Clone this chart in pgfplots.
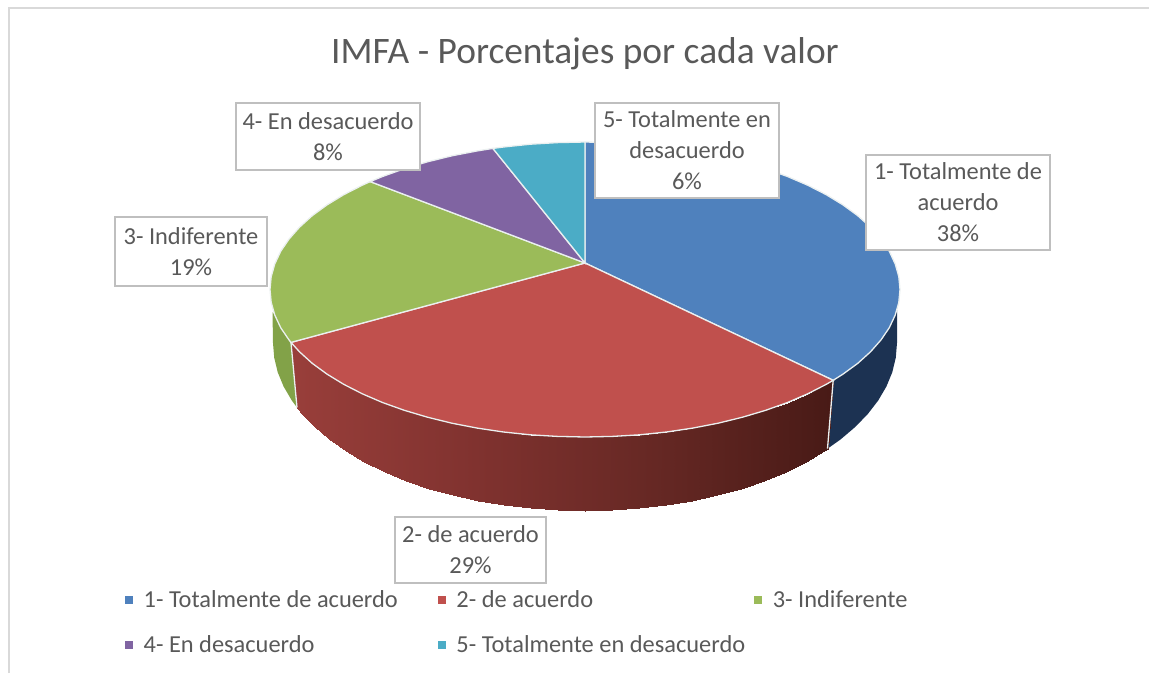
\documentclass[border=0pt]{standalone}
\usepackage{pgfplots}
\pgfplotsset{compat=1.18}
\usepackage{fontspec}
\setmainfont{Carlito}
\definecolor{txt}{RGB}{89,89,89}
\definecolor{boxl}{RGB}{191,191,191}
\definecolor{frame}{RGB}{217,217,217}
\definecolor{sblue}{RGB}{79,129,189}
\definecolor{sred}{RGB}{192,80,77}
\definecolor{sgreen}{RGB}{155,187,89}
\definecolor{spurple}{RGB}{128,100,162}
\definecolor{steal}{RGB}{75,172,198}
\definecolor{seam}{RGB}{235,240,240}
\tikzset{
  lab/.style={draw=boxl, line width=1.6pt, fill=white, align=center, text=txt,
              font=\fontsize{24.4}{31}\selectfont, inner sep=0pt},
}
\begin{document}
\begin{tikzpicture}
\path[use as bounding box] (0,0) rectangle (1149pt,673pt);
\begin{axis}[
    at={(0,0)}, anchor=south west,
    width=1149pt, height=673pt, scale only axis,
    xmin=0, xmax=1149, ymin=0, ymax=673, y dir=reverse,
    hide axis, clip=false,
    colormap={redside}{rgb255=(152,62,58) rgb255=(128,50,47) rgb255=(102,40,36) rgb255=(72,26,22)},
    point meta min=297, point meta max=833,
    legend columns=3,
    legend cell align=left,
    legend image code/.code={\fill[#1,draw=none] (0pt,-4pt) rectangle (8pt,4pt); \path (18pt,0pt);},
    legend style={at={(axis cs:125,591)}, anchor=north west, draw=none, fill=none,
      font=\fontsize{24.4}{28}\selectfont, text=txt,
      /tikz/every node/.append style={inner sep=0pt},
      row sep=26pt, inner sep=0pt, outer sep=0pt},
  ]
% frame of the chart
\addplot[forget plot, frame, line width=1.8pt] coordinates {(9,673) (9,8) (1149,8)};

% sides of the pie
\addplot[forget plot, fill={rgb,255:red,28;green,50;blue,82}, draw=none] coordinates {
  (897.0,310) (895.2,315.1) (889.3,327.7) (881.0,339.9) (870.5,351.8) (857.8,363.3) (843.0,374.1) (833.2,380.3)
  (827.5,448.7) (840.6,439.4) (855.2,427.0) (867.8,414.0) (878.2,400.5) (886.4,386.5) (892.3,372.2) (895.8,357.6) (897,343)
} -- cycle;
\addplot[forget plot, fill={rgb,255:red,130;green,162;blue,72}, draw=none] coordinates {
  (272.5,312) (274.8,315.1) (280.7,327.7) (289.0,339.9) (291,342.4)
  (297,407.5) (291.8,400.5) (283.6,386.5) (277.7,372.2) (274.2,357.6) (273,343)
} -- cycle;
\addplot[forget plot, patch, patch type=rectangle, mesh input=lattice, mesh/cols=2,
         shader=interp, point meta=x] table {
x y
833.2 380.3
827.5 448.7
826.3 384.3
824.0 451.0
807.7 393.8
805.6 461.8
787.5 402.5
785.5 471.7
765.7 410.3
764.0 480.6
742.5 417.2
741.0 488.5
718.1 423.2
716.9 495.3
692.7 428.1
691.7 500.9
666.5 432.0
665.8 505.3
639.7 434.8
639.2 508.4
612.5 436.4
612.2 510.4
585.0 437.0
585.0 511.0
557.5 436.4
557.8 510.4
530.3 434.8
530.8 508.4
503.5 432.0
504.2 505.3
477.3 428.1
478.3 500.9
451.9 423.2
453.1 495.3
427.5 417.2
429.0 488.5
404.3 410.3
406.0 480.6
382.5 402.5
384.5 471.7
362.3 393.8
364.4 461.8
343.7 384.3
346.0 451.0
327.0 374.1
329.4 439.4
312.2 363.3
314.8 427.0
299.5 351.8
302.2 414.0
291.0 342.4
297.0 407.5
};
\addplot[forget plot, seam, line width=1.3pt] coordinates {(833.2,380.3) (827.5,448.7)};
\addplot[forget plot, seam, line width=1.3pt] coordinates {(291,342.4) (297,407.5)};

% top of the pie, one closed outline for each slice
\addplot[fill=sblue, draw=seam, line width=1.3pt] coordinates {
  (585,263) (585,142) (612.5,142.6) (639.7,144.2) (666.5,147.0) (692.7,150.9) (718.1,155.8) (742.5,161.8)
  (765.7,168.7) (787.5,176.5) (807.7,185.2) (826.3,194.7) (843.0,204.9) (857.8,215.7) (870.5,227.2)
  (881.0,239.1) (889.3,251.3) (895.2,263.9) (898.8,276.6) (900,289.5) (898.8,302.4) (895.2,315.1)
  (889.3,327.7) (881.0,339.9) (870.5,351.8) (857.8,363.3) (843.0,374.1) (833.2,380.3)
} -- cycle;
\addplot[fill=sred, draw=seam, line width=1.3pt] coordinates {
  (585,263) (833.2,380.3) (826.3,384.3) (807.7,393.8) (787.5,402.5) (765.7,410.3) (742.5,417.2) (718.1,423.2)
  (692.7,428.1) (666.5,432.0) (639.7,434.8) (612.5,436.4) (585,437) (557.5,436.4) (530.3,434.8) (503.5,432.0)
  (477.3,428.1) (451.9,423.2) (427.5,417.2) (404.3,410.3) (382.5,402.5) (362.3,393.8) (343.7,384.3)
  (327.0,374.1) (312.2,363.3) (299.5,351.8) (291,342.4)
} -- cycle;
\addplot[fill=sgreen, draw=seam, line width=1.3pt] coordinates {
  (585,263) (291,342.4) (289.0,339.9) (280.7,327.7) (274.8,315.1) (271.2,302.4) (270,289.5) (271.2,276.6)
  (274.8,263.9) (280.7,251.3) (289.0,239.1) (299.5,227.2) (312.2,215.7) (327.0,204.9) (343.7,194.7)
  (362.3,185.2) (370.2,181.6)
} -- cycle;
\addplot[fill=spurple, draw=seam, line width=1.3pt] coordinates {
  (585,263) (370.2,181.6) (382.5,176.5) (404.3,168.7) (427.5,161.8) (451.9,155.8) (477.3,150.9) (492.9,148.4)
} -- cycle;
\addplot[fill=steal, draw=seam, line width=1.3pt] coordinates {
  (585,263) (492.9,148.4) (503.5,147.0) (530.3,144.2) (557.5,142.6) (585,142)
} -- cycle;
\legend{1- Totalmente de acuerdo\hspace*{40pt}, 2- de acuerdo, 3- Indiferente, 4- En desacuerdo, 5- Totalmente en desacuerdo\hspace*{9pt}}

% title and value labels
\node[text=txt, font=\fontsize{37.4}{40}\selectfont] at (axis cs:585,54) {IMFA - Porcentajes por cada valor};
\node[lab, minimum width=184pt, minimum height=67pt] at (axis cs:328,136.5) {4- En desacuerdo\\8\%};
\node[lab, minimum width=184pt, minimum height=95pt] at (axis cs:687,150.5) {5- Totalmente en\\desacuerdo\\6\%};
\node[lab, minimum width=184pt, minimum height=95pt] at (axis cs:958,202.5) {1- Totalmente de\\acuerdo\\38\%};
\node[lab, minimum width=152pt, minimum height=69pt] at (axis cs:191,251.5) {3- Indiferente\\19\%};
\node[lab, minimum width=151pt, minimum height=66pt] at (axis cs:470.5,550) {2- de acuerdo\\29\%};
\end{axis}
\end{tikzpicture}
\end{document}
